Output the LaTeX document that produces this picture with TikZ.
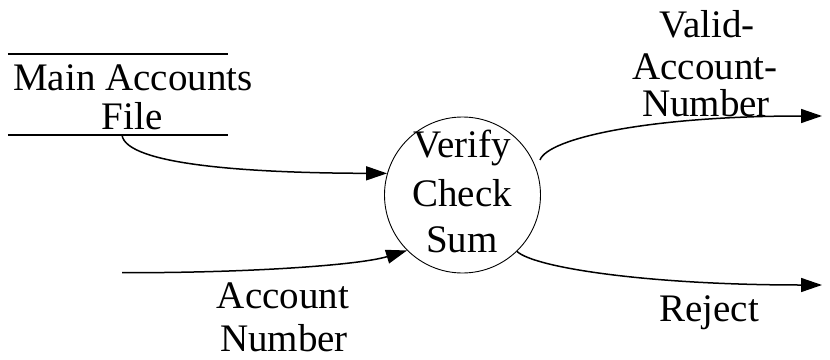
\documentclass[tikz,border=0pt]{standalone}
\usepackage{fontspec}
\setmainfont{Liberation Serif}
\usetikzlibrary{arrows.meta}
\begin{document}
\begin{tikzpicture}[x=1pt,y=-1pt,
  lbl/.style={anchor=base,inner sep=0pt,font=\fontsize{39}{44}\selectfont},
  flow/.style={line width=1.5pt,-{Triangle[length=21pt,width=14pt]}},
  process/.style={circle,draw,line width=0.9pt,minimum size=156pt,inner sep=0pt},
  storebox/.style={minimum width=220pt,minimum height=80.7pt,inner sep=0pt},
  storeline/.style={line width=1.6pt}]
  \useasboundingbox (0,0) rectangle (830,359);

  % data store
  \node[storebox] (store) at (118,94.65) {};
  \draw[storeline] (store.north west) -- (store.north east);
  \draw[storeline] (store.south west) -- (store.south east);
  \node[lbl] (storeA) at (133,90.7) {Main Accounts};
  \node[lbl] (storeB) at (132,129.3) {File};

  % process bubble
  \node[process] (proc) at (462.5,195) {};
  \node[lbl] (procA) at (462,157) {Verify};
  \node[lbl] (procB) at (462,206.5) {Check};
  \node[lbl] (procC) at (462,252) {Sum};

  % free ends of the flows
  \coordinate (fileout) at (122,135);
  \coordinate (acctin) at (122,272.7);
  \coordinate (validout) at (540,160);
  \coordinate (validend) at (822,116);
  \coordinate (rejectend) at (822,285);

  % flows
  \draw[flow] (fileout) .. controls (126,165) and (250,173) .. (proc.164);
  \draw[flow] (acctin) .. controls (250,273) and (360,265) .. (proc.-135);
  \draw[flow] (validout) .. controls (548,138) and (650,116) .. (validend);
  \draw[flow] (proc.-46) .. controls (535,268) and (650,285) .. (rejectend);

  % flow labels
  \node[lbl] (acctA) at (283,308) {Account};
  \node[lbl] (acctB) at (284,351.7) {Number};
  \node[lbl] (validA) at (707,37.5) {Valid-};
  \node[lbl] (validB) at (705,79) {Account-};
  \node[lbl] (validC) at (706,116) {Number};
  \node[lbl] (rejA) at (709,321.7) {Reject};
\end{tikzpicture}
\end{document}
